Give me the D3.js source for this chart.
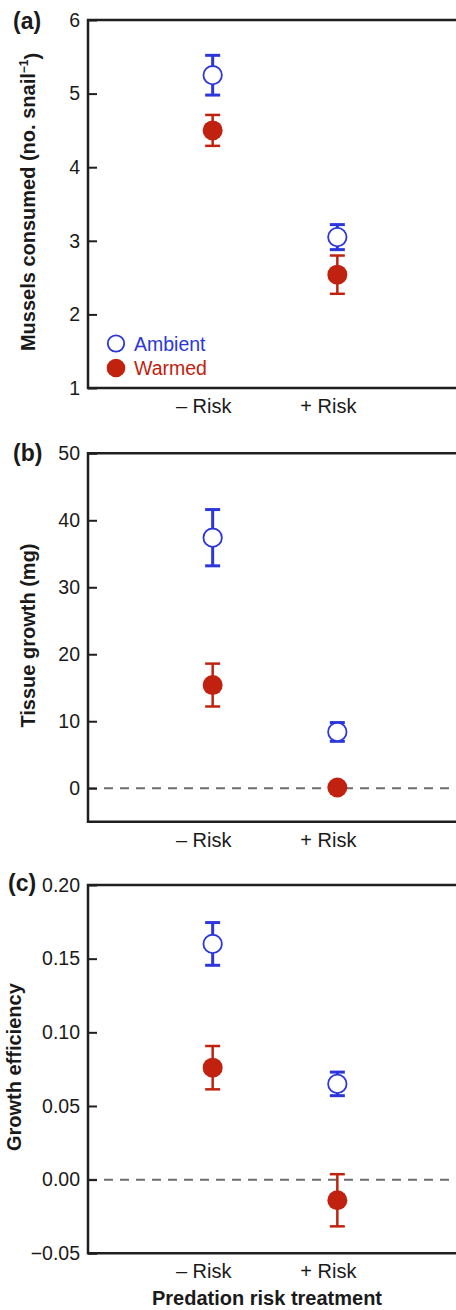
<!DOCTYPE html>
<html>
    <head>
        <meta charset="utf-8">
        <title>Predation risk and warming</title>
        <style>
body {
    margin: 0;
    background-color: white;
}

svg {
    display: block;
    background-color: white;
}

text {
    font-family: "Liberation Sans", Arial, Helvetica, sans-serif;
    fill: #1a1a1a;
}

.frame {
    stroke: #1f1f1f;
    stroke-width: 2.5;
    fill: none;
}

.zero {
    stroke: #6b6b6b;
    stroke-width: 2;
    stroke-dasharray: 9, 7;
}
</style>
        <script src="https://cdn.jsdelivr.net/npm/d3@7"></script>
    </head>
    <body>
        <script>
// categories and series
var categories = ["\u2013 Risk", "+ Risk"];
var treatments = ["Ambient", "Warmed"];

// (a) mussels consumed
var musselsAmbient = [5.25, 3.05];
var musselsAmbientErr = [0.27, 0.17];
var musselsWarmed = [4.50, 2.54];
var musselsWarmedErr = [0.21, 0.26];

// (b) tissue growth
var growthAmbient = [37.4, 8.4];
var growthAmbientErr = [4.2, 1.4];
var growthWarmed = [15.4, 0.1];
var growthWarmedErr = [3.2, 0.3];

// (c) growth efficiency
var effAmbient = [0.160, 0.065];
var effAmbientErr = [0.0145, 0.008];
var effWarmed = [0.076, -0.014];
var effWarmedErr = [0.0147, 0.0177];

// tick labels
var musselsTicks = [1, 2, 3, 4, 5, 6];
var growthTicks = [0, 10, 20, 30, 40, 50];
var effTicks = [-0.05, 0, 0.05, 0.10, 0.15, 0.20];

var width = 456,
    height = 1310;

var blue = "#2b36dc",
    red = "#c1220f";

var svg = d3.select('body')
    .append('svg')
    .attr('width', width)
    .attr('height', height);

var left = 88,
    right = 462;

var x = d3.scalePoint()
    .domain(categories)
    .range([left, right])
    .padding(1);

var panels = [
    {
        letter: "(a)", letterX: 13, letterY: 29,
        domain: [1, 6], top: 20, bottom: 388,
        ticks: musselsTicks, format: d3.format("d"),
        label: "Mussels consumed (no. snail", sup: true, labelX: 35,
        ambient: musselsAmbient, ambientErr: musselsAmbientErr,
        warmed: musselsWarmed, warmedErr: musselsWarmedErr,
        zero: false, legend: true
    },
    {
        letter: "(b)", letterX: 13, letterY: 461,
        domain: [-5, 50], top: 453.3, bottom: 821.7,
        ticks: growthTicks, format: d3.format("d"),
        label: "Tissue growth (mg)", sup: false, labelX: 35,
        ambient: growthAmbient, ambientErr: growthAmbientErr,
        warmed: growthWarmed, warmedErr: growthWarmedErr,
        zero: true, legend: false
    },
    {
        letter: "(c)", letterX: 8, letterY: 891,
        domain: [-0.05, 0.20], top: 885, bottom: 1253.3,
        ticks: effTicks, format: d3.format(".2f"),
        label: "Growth efficiency", sup: false, labelX: 21,
        ambient: effAmbient, ambientErr: effAmbientErr,
        warmed: effWarmed, warmedErr: effWarmedErr,
        zero: true, legend: false
    }
];

panels.forEach(function (p) {

    var y = d3.scaleLinear()
        .domain(p.domain)
        .range([p.bottom, p.top]);

    var g = svg.append("g");

    // zero reference line
    if (p.zero) {
        g.append("line")
            .attr("class", "zero")
            .attr("x1", left)
            .attr("x2", right)
            .attr("y1", y(0))
            .attr("y2", y(0));
    }

    // left axis with inward ticks
    var axis = g.append("g")
        .attr("transform", "translate(" + left + ",0)")
        .call(d3.axisLeft(y)
            .tickValues(p.ticks)
            .tickFormat(p.format)
            .tickSizeInner(-9)
            .tickSizeOuter(0)
            .tickPadding(8));

    axis.select(".domain").remove();
    axis.selectAll(".tick line")
        .attr("stroke", "#1f1f1f")
        .attr("stroke-width", 2);
    axis.selectAll(".tick text")
        .attr("font-family", null)
        .style("font-size", "19.5px")
        .attr("fill", "#1a1a1a");
    axis.attr("font-family", null).attr("font-size", null);

    // frame: left, top and bottom
    g.append("path")
        .attr("class", "frame")
        .attr("d", "M" + right + "," + p.top + "H" + left + "V" + p.bottom + "H" + right);

    // category labels
    g.selectAll(".cat")
        .data(categories)
        .enter()
        .append("text")
        .attr("x", function (d) { return x(d) - 9; })
        .attr("y", p.bottom + 25)
        .attr("text-anchor", "middle")
        .style("font-size", "20px")
        .text(function (d) { return d; });

    // panel letter
    g.append("text")
        .attr("x", p.letterX)
        .attr("y", p.letterY)
        .style("font-size", "23px")
        .style("font-weight", "bold")
        .text(p.letter);

    // y label
    var cy = (p.top + p.bottom) / 2 - 2;
    var lab = g.append("text")
        .attr("transform", "translate(" + p.labelX + "," + cy + ") rotate(-90)")
        .attr("text-anchor", "middle")
        .style("font-size", "20px")
        .style("font-weight", "bold");
    lab.append("tspan").text(p.label);
    if (p.sup) {
        lab.append("tspan")
            .attr("dy", "-0.55em")
            .style("font-size", "12px")
            .text("\u22121");
        lab.append("tspan")
            .attr("dy", "0.55em")
            .text(")");
    }

    // series
    var series = [
        { name: "Ambient", values: p.ambient, errs: p.ambientErr, color: blue, open: true, width: 3 },
        { name: "Warmed", values: p.warmed, errs: p.warmedErr, color: red, open: false, width: 2.5 }
    ];

    series.forEach(function (s) {
        var pts = categories.map(function (c, i) {
            return { cat: c, v: s.values[i], e: s.errs[i] };
        });

        var eb = g.selectAll(".eb-" + s.name)
            .data(pts)
            .enter()
            .append("g")
            .attr("stroke", s.color)
            .attr("stroke-width", s.width);

        eb.append("line")
            .attr("x1", function (d) { return x(d.cat); })
            .attr("x2", function (d) { return x(d.cat); })
            .attr("y1", function (d) { return y(d.v + d.e); })
            .attr("y2", function (d) { return y(d.v - d.e); });

        [1, -1].forEach(function (sign) {
            eb.append("line")
                .attr("x1", function (d) { return x(d.cat) - 7.5; })
                .attr("x2", function (d) { return x(d.cat) + 7.5; })
                .attr("y1", function (d) { return y(d.v + sign * d.e); })
                .attr("y2", function (d) { return y(d.v + sign * d.e); });
        });

        g.selectAll(".pt-" + s.name)
            .data(pts)
            .enter()
            .append("circle")
            .attr("cx", function (d) { return x(d.cat); })
            .attr("cy", function (d) { return y(d.v); })
            .attr("r", s.open ? 9.2 : 10)
            .attr("fill", s.open ? "white" : s.color)
            .attr("stroke", s.color)
            .attr("stroke-width", s.open ? 1.8 : 0);
    });

    // legend
    if (p.legend) {
        var leg = g.selectAll(".leg")
            .data(treatments)
            .enter()
            .append("g")
            .attr("transform", function (d, i) { return "translate(116," + (343.5 + i * 24.5) + ")"; });

        leg.append("circle")
            .attr("r", function (d, i) { return i === 0 ? 8.2 : 9.3; })
            .attr("fill", function (d, i) { return i === 0 ? "white" : red; })
            .attr("stroke", function (d, i) { return i === 0 ? blue : "none"; })
            .attr("stroke-width", 1.8);

        leg.append("text")
            .attr("x", 18)
            .attr("y", 7.2)
            .style("font-size", "19.5px")
            .style("fill", function (d, i) { return i === 0 ? blue : red; })
            .text(function (d) { return d; });
    }
});

// shared x title
svg.append("text")
    .attr("x", 267)
    .attr("y", 1305)
    .attr("text-anchor", "middle")
    .style("font-size", "20px")
    .style("font-weight", "bold")
    .text("Predation risk treatment");

        </script>
    </body>
</html>
